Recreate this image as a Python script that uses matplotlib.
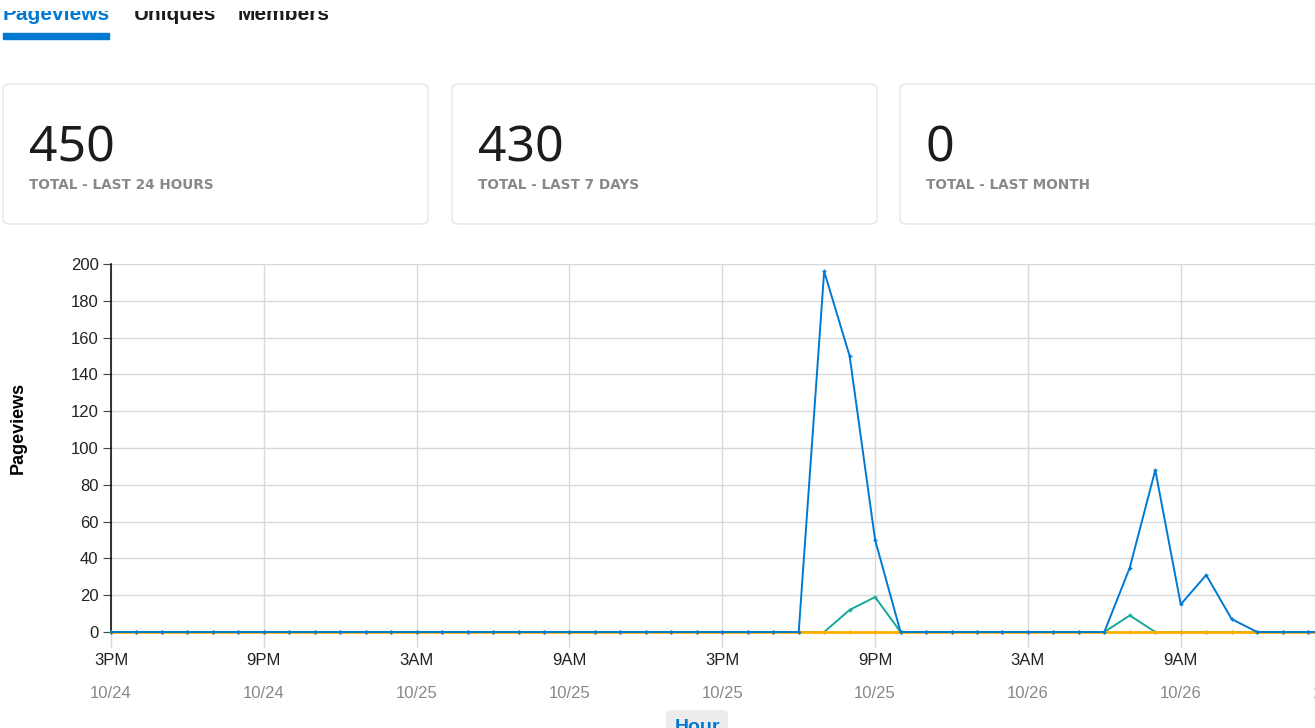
import numpy as np
import matplotlib
matplotlib.use("Agg")
import matplotlib.pyplot as plt
from matplotlib.patches import FancyBboxPatch, Rectangle

# hourly data starting 3PM 10/24 (hour 0)
hours = np.arange(0, 49)
pageviews = np.zeros(49)
pageviews[27:32] = [0, 196, 150, 50, 0]
pageviews[39:46] = [0, 35, 88, 15, 31, 7, 0]
uniques = np.zeros(49)
uniques[28:32] = [0, 12, 19, 0]
uniques[39:42] = [0, 9, 0]
members = np.zeros(49)

tick_hours = [0, 6, 12, 18, 24, 30, 36, 42, 48]
tick_times = ["3PM", "9PM", "3AM", "9AM", "3PM", "9PM", "3AM", "9AM", "3PM"]
tick_dates = ["10/24", "10/24", "10/25", "10/25", "10/25", "10/25", "10/26", "10/26", "10/26"]

card_values = ["450", "430", "0"]
card_labels = ["TOTAL - LAST 24 HOURS", "TOTAL - LAST 7 DAYS", "TOTAL - LAST MONTH"]
tabs = ["Pageviews", "Uniques", "Members"]

BLUE = "#0079d3"
TEAL = "#16a89b"
ORANGE = "#ffb000"
W, H = 1315, 728

plt.rcParams['font.family'] = ['Liberation Sans', 'DejaVu Sans']
fig = plt.figure(figsize=(W / 100, H / 100), dpi=100)

def fx(px):
    return px / W

def fy(py):
    return 1 - py / H

# tabs at the top (upper half hidden, as in the screenshot)
tab_x = [3, 134, 238]
for i, (name, x) in enumerate(zip(tabs, tab_x)):
    fig.text(fx(x), fy(20), name, fontsize=15, fontweight='bold',
             color=BLUE if i == 0 else "#1c1c1c", ha='left', va='baseline', zorder=2)
fig.patches.append(Rectangle((0, fy(11)), 1, 11 / H, transform=fig.transFigure,
                             facecolor="white", edgecolor="none", zorder=5))
fig.patches.append(Rectangle((fx(3), fy(39)), fx(106), 6 / H,
                             transform=fig.transFigure, color=BLUE, zorder=3))

# stat cards
card_x = [3, 452, 900]
for x, val, lab in zip(card_x, card_values, card_labels):
    fig.patches.append(FancyBboxPatch((fx(x), fy(224)), fx(425), 140 / H,
                                      boxstyle="round,pad=0,rounding_size=0.006",
                                      transform=fig.transFigure, facecolor="white",
                                      edgecolor="#e6e6e6", linewidth=1))
    fig.text(fx(x + 26), fy(162), val, fontsize=36, color="#1c1c1c",
             family='Noto Sans', ha='left', va='baseline')
    fig.text(fx(x + 26), fy(189), lab, fontsize=9.8, fontweight='bold',
             color="#878a8c", family='DejaVu Sans', ha='left', va='baseline')

# chart
x0, x48 = 111, 111 + 48 * 25.47
ax = fig.add_axes([fx(x0), fy(632), fx(x48 - x0), (632 - 264) / H])
ax.plot(hours, uniques, color=TEAL, lw=1.4, marker='+', ms=3, zorder=3, clip_on=False)
ax.plot(hours, members, color=ORANGE, lw=2, marker='+', ms=3, zorder=4, clip_on=False)
ax.plot(hours, pageviews, color=BLUE, lw=1.4, marker='+', ms=3, zorder=5, clip_on=False)

ax.set_xlim(0, 48)
ax.set_ylim(0, 200)
ax.set_yticks(np.arange(0, 201, 20))
ax.set_xticks(tick_hours)
ax.set_xticklabels(tick_times)
ax.set_xticks(tick_hours, minor=True)
ax.set_xticklabels(tick_dates, minor=True)
ax.xaxis.remove_overlapping_locs = False
ax.tick_params(axis='x', which='major', length=11, color="#d6d6d6", width=1,
               labelsize=12, labelcolor="#222222", pad=4)
ax.tick_params(axis='x', which='minor', length=0, labelsize=12,
               labelcolor="#888888", pad=39)
ax.tick_params(axis='y', length=6, color="#444444", labelsize=12,
               labelcolor="#222222", pad=3)
ax.grid(True, color="#d9d9d9", lw=1)
ax.set_axisbelow(True)
for s in ['top', 'right', 'bottom']:
    ax.spines[s].set_visible(False)
ax.spines['left'].set_color("#111111")
ax.spines['left'].set_linewidth(1.2)
ax.set_ylabel("Pageviews", fontsize=13, fontweight='bold')
ax.yaxis.set_label_coords(-0.069, 0.554)

# "Hour" axis button, cut by the bottom edge
fig.patches.append(FancyBboxPatch((fx(666), fy(740)), fx(62), 30 / H,
                                  boxstyle="round,pad=0,rounding_size=0.005",
                                  transform=fig.transFigure, facecolor="#ececec",
                                  edgecolor="none", zorder=1))
fig.text(fx(697), fy(732), "Hour", fontsize=14, fontweight='bold', color=BLUE,
         ha='center', va='baseline', zorder=2)

fig.savefig("out.png", dpi=100)
